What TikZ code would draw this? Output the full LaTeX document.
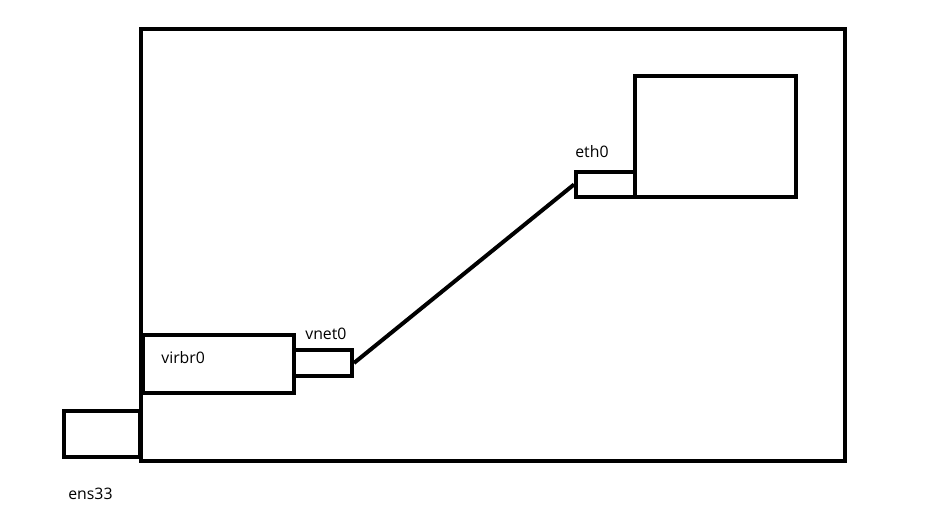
\documentclass[tikz,border=0pt]{standalone}
\usepackage{fontspec}
\setmainfont{Open Sans}
\usepackage{tikz}
\usetikzlibrary{positioning}

\begin{document}
\begin{tikzpicture}[
  x=0.02cm, y=-0.02cm,
  every node/.style={font=\fontsize{9}{11}\selectfont},
  box/.style={rectangle, draw, line width=0.08cm, inner sep=0pt, anchor=north west},
  lbl/.style={inner sep=0pt, anchor=west},
  link/.style={line width=0.08cm}
]
\useasboundingbox (0,0) rectangle (942,519);

% Host and VM
\node[box, minimum width=14.08cm, minimum height=8.64cm] (host) at (139,27) {};
\node[box, minimum width=3.22cm, minimum height=2.42cm] (vm) at (633,74) {};

% Interfaces
\node[box, minimum width=1.18cm, minimum height=0.5cm] (eth) at (574,170) {};
\node[box, minimum width=3.02cm, minimum height=1.16cm] (virbr) at (141,333) {};
\node[box, minimum width=1.16cm, minimum height=0.52cm] (vnet) at (292,348) {};
\node[box, minimum width=1.52cm, minimum height=0.92cm] (ens) at (62,409) {};

% Labels
\node[lbl] (ethlbl) at (575,152) {eth0};
\node[lbl] (vnetlbl) at (305,334) {vnet0};
\node[lbl] (virbrlbl) at (161,358) {virbr0};
\node[lbl] (enslbl) at (68,494) {ens33};

% Link
\draw[link] (vnet.east) -- (eth.west);

\end{tikzpicture}
\end{document}
